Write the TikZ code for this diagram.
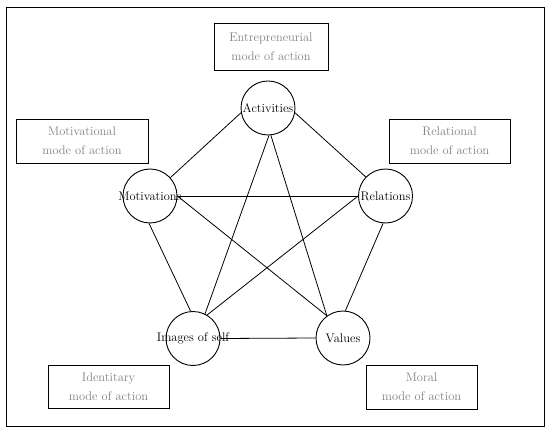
\documentclass[tikz,border=0pt]{standalone}
\usepackage{tikz}
\tikzset{
  dim/.style={circle, draw, line width=0.9pt, minimum size=54bp, inner sep=0pt,
    label={[font=\fontsize{12.5}{14}\selectfont, inner sep=0pt]center:#1}},
  modebox/.style={draw, line width=0.9pt, minimum height=44bp, inner sep=0pt, align=center, text=black!50, font=\fontsize{12.5}{19.5}\selectfont},
  link/.style={line width=0.8pt}
}
\begin{document}
\begin{tikzpicture}[x=1bp,y=-1bp]
        \useasboundingbox (0,0) rectangle (550,433);
        \draw[line width=0.9pt] (6,7) rectangle (544,426);
        % the five modes of action
        \node[modebox, minimum width=114bp, minimum height=47bp] (entr) at (271,46.5) {Entrepreneurial\\mode of action};
        \node[modebox, minimum width=132bp] (motv) at (82,141) {Motivational\\mode of action};
        \node[modebox, minimum width=121bp] (relb) at (449.5,141) {Relational\\mode of action};
        \node[modebox, minimum width=121bp, minimum height=43bp] (iden) at (108.5,386.5) {Identitary\\mode of action};
        \node[modebox, minimum width=111bp] (morl) at (421.5,387) {Moral\\mode of action};
        % dimensions
        \node[dim=Activities] (act) at (268,108) {};
        \node[dim=Motivations] (mot) at (150,196) {};
        \node[dim=Relations] (rel) at (385.5,196) {};
        \node[dim=Images of self] (img) at (193,338.5) {};
        \node[dim=Values] (val) at (343,338) {};
        % pentagon
        \draw[link] (act.190) -- (mot.42);
        \draw[link] (act.350) -- (rel.136);
        \draw[link] (mot.268) -- (img.95);
        \draw[link] (rel.265) -- (val.85);
        \draw[link] (img.east) -- (val.west);
        % star
        \draw[link] (act.272) -- (img.64);
        \draw[link] (act.276) -- (val.126);
        \draw[link] (mot.east) -- (rel.west);
        \draw[link] (mot.east) -- (val.126);
        \draw[link] (rel.west) -- (img.59);
\end{tikzpicture}
\end{document}
